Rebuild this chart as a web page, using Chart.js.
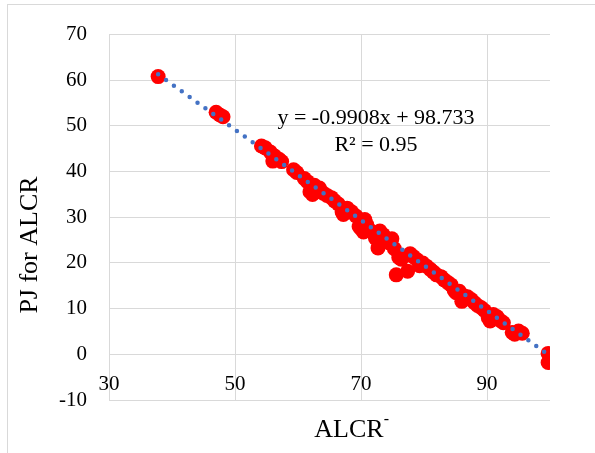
<!DOCTYPE html>
<html>
<head>
<meta charset="utf-8">
<script src="https://cdn.jsdelivr.net/npm/chart.js@4/dist/chart.umd.min.js"></script>
<style>
  body { margin: 0; background: #fff; overflow: hidden; }
  #wrap { position: relative; width: 595px; height: 453px; }
  #frame { position: absolute; left: 7px; top: 4px; width: 620px; height: 480px; border: 1px solid #d9d9d9; }
  #myChart { position: absolute; left: 0; top: 0; }
</style>
</head>
<body>
<div id="wrap">
  <div id="frame"></div>
  <canvas id="myChart" width="595" height="453"></canvas>
</div>
<script>
// values
const alcrX = [37.8, 47.0, 47.6, 48.1, 54.2, 54.8, 55.6, 56.3, 56.0, 57.0, 57.4, 59.3, 59.8, 61.0, 61.5, 61.9, 62.3, 62.6, 63.4, 64.0,
  64.6, 65.3, 65.8, 66.4, 67.0, 67.2, 67.8, 68.5, 69.2, 69.7, 70.0, 70.4, 70.6, 70.9, 71.6, 72.3, 72.7, 73.0, 73.5, 74.0,
  74.5, 74.9, 75.3, 75.6, 76.0, 76.4, 77.4, 77.8, 78.3, 78.9, 79.3, 79.8, 80.4, 81.0, 81.5, 82.0, 82.7, 83.2, 83.8, 84.3,
  84.8, 85.1, 85.6, 86.0, 86.3, 86.9, 87.5, 88.0, 88.5, 89.1, 89.6, 90.2, 90.5, 91.0, 91.6, 92.1, 92.6, 94.0, 94.4, 95.0,
  95.6, 99.7, 99.7];
const pjY = [60.8, 53.0, 52.4, 52.0, 45.6, 45.2, 44.3, 43.4, 42.3, 42.7, 42.2, 40.4, 39.8, 38.5, 37.8, 35.6, 35.0, 37.0, 36.4, 35.3,
  34.8, 34.3, 33.6, 32.9, 31.2, 30.6, 32.0, 31.2, 30.3, 28.0, 27.5, 26.8, 29.5, 28.4, 27.0, 25.4, 23.3, 27.0, 26.2, 25.0,
  24.4, 25.3, 23.1, 17.4, 21.2, 20.8, 18.2, 22.0, 21.4, 20.7, 19.4, 20.0, 19.3, 18.6, 18.0, 17.4, 17.0, 16.3, 15.7, 15.2,
  14.0, 13.5, 13.8, 11.6, 12.8, 12.6, 12.0, 11.3, 10.7, 10.2, 9.6, 8.0, 7.3, 8.7, 8.2, 7.4, 6.9, 4.8, 4.4, 5.1,
  4.6, 0.2, -1.8];
// linear trendline ends
const trendX = [37.8, 99.7];
const trendY = [61.3, -0.05];
const xTicks = [30, 50, 70, 90];
const yTicks = [-10, 0, 10, 20, 30, 40, 50, 60, 70];
const trendLabel = ['y = -0.9908x + 98.733', 'R\u00b2 = 0.95'];
const xTitle = 'ALCR';
const yTitle = 'PJ for ALCR';

const serif = '"Liberation Serif", "Times New Roman", serif';

// titles, x tick labels (they sit just under the y=0 line, like excel) and trendline label
const titles = {
  id: 'titles',
  afterDraw(chart) {
    const c = chart.ctx;
    const xs = chart.scales.x, ys = chart.scales.y;
    c.save();
    c.fillStyle = '#000';
    c.textBaseline = 'middle';
    c.textAlign = 'center';
    c.font = '21px ' + serif;
    const ly = ys.getPixelForValue(0) + 30;
    xTicks.forEach(v => c.fillText(String(v), xs.getPixelForValue(v), ly));
    // y title
    c.font = '26px ' + serif;
    c.save();
    c.translate(30, 245);
    c.rotate(-Math.PI / 2);
    c.fillText(yTitle, 0, 0);
    c.restore();
    // x title with superscript minus
    const w = c.measureText(xTitle).width;
    c.textAlign = 'left';
    const x0 = 352 - (w + 6) / 2;
    c.fillText(xTitle, x0, 430);
    c.font = '16px ' + serif;
    c.fillText('-', x0 + w, 420);
    // trendline label
    c.font = '22px ' + serif;
    c.textAlign = 'center';
    c.fillText(trendLabel[0], 376, 118);
    c.fillText(trendLabel[1], 376, 145);
    c.restore();
  }
};

const ctx = document.getElementById('myChart');
const myChart = new Chart(ctx, {
  type: 'scatter',
  data: {
    datasets: [{
      type: 'line',
      data: trendX.map((x, i) => ({x: x, y: trendY[i]})),
      borderColor: '#4472C4',
      borderWidth: 4.5,
      borderDash: [0, 9.7],
      borderCapStyle: 'round',
      pointRadius: 0,
      fill: false,
      order: 0
    }, {
      data: alcrX.map((x, i) => ({x: x, y: pjY[i]})),
      backgroundColor: '#FF0000',
      borderWidth: 0,
      pointRadius: 7.5,
      pointHoverRadius: 7.5,
      order: 1
    }]
  },
  options: {
    responsive: false,
    animation: false,
    events: [],
    layout: { padding: { left: 0, right: 45, top: 27, bottom: 0 } },
    plugins: { legend: { display: false }, tooltip: { enabled: false } },
    scales: {
      x: {
        type: 'linear',
        min: 30,
        max: 100,
        afterBuildTicks: s => { s.ticks = xTicks.map(v => ({value: v})); },
        afterFit: s => { s.height = 53; },
        grid: { color: '#d9d9d9', lineWidth: 1, drawTicks: false },
        border: { display: false },
        ticks: { display: false }
      },
      y: {
        min: -10,
        max: 70,
        afterBuildTicks: s => { s.ticks = yTicks.map(v => ({value: v})); },
        afterFit: s => { s.width = 109; },
        grid: { color: '#d9d9d9', lineWidth: 1, drawTicks: false },
        border: { display: false },
        ticks: { padding: 22, color: '#000', font: { family: serif, size: 21 } }
      }
    }
  },
  plugins: [titles]
});
</script>
</body>
</html>
